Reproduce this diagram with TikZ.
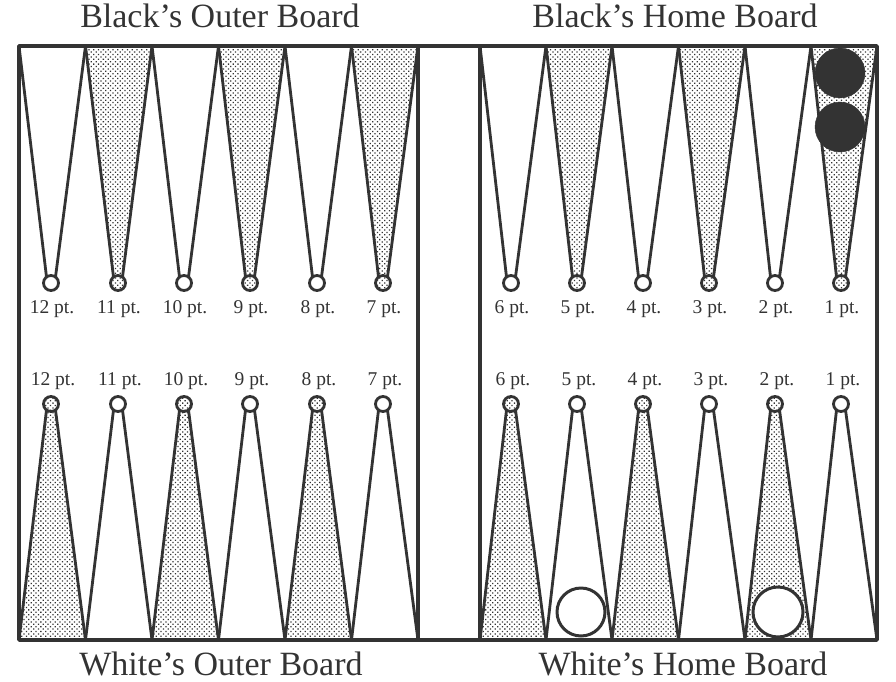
\documentclass[tikz,border=0pt]{standalone}
\usepackage{fontspec}
\setmainfont{Liberation Serif}
\usetikzlibrary{patterns.meta}
\definecolor{ink}{HTML}{333333}
\newcommand\toptri[4]{% xl, xr, cx, shaded
  \ifnum#4=1
    \path[dotfill] (#1,46) -- (#3-4.5,277) -- (#3+4.5,277) -- (#2,46) -- cycle;
  \fi
  \draw[ptline] (#1,46) -- (#3-4.5,277) (#3+4.5,277) -- (#2,46);
  \draw[ptline, fill=white] (#3,283) circle (7.5);
  \ifnum#4=1 \path[dotfill] (#3,283) circle (6.3); \fi
}
\newcommand\bottri[4]{%
  \ifnum#4=1
    \path[dotfill] (#1,640) -- (#3-4.5,410) -- (#3+4.5,410) -- (#2,640) -- cycle;
  \fi
  \draw[ptline] (#1,640) -- (#3-4.5,410) (#3+4.5,410) -- (#2,640);
  \draw[ptline, fill=white] (#3,404) circle (7.5);
  \ifnum#4=1 \path[dotfill] (#3,404) circle (6.3); \fi
}
\begin{document}
\begin{tikzpicture}[x=1pt,y=-1pt,line join=round,
  ptline/.style={draw=ink,line width=2.8pt},
  dotfill/.style={pattern={Dots[distance=3.4pt,radius=0.9pt,angle=45]},pattern color=ink},
  lbl/.style={font=\fontsize{19.5}{22}\selectfont,text=ink,anchor=base,inner sep=0pt},
  ttl/.style={font=\fontsize{34}{38}\selectfont,text=ink,anchor=base,inner sep=0pt},
  blackman/.style={draw=ink,fill=ink},
  whiteman/.style={draw=ink,line width=3pt,fill=white}]
\useasboundingbox (0,0) rectangle (896,682);
% top points
\toptri{19}{85.5}{51}{0}
\toptri{85.5}{152}{118}{1}
\toptri{152}{218.5}{184}{0}
\toptri{218.5}{285}{250}{1}
\toptri{285}{351.5}{317}{0}
\toptri{351.5}{418}{383}{1}
\toptri{480}{546}{511}{0}
\toptri{546}{612}{577}{1}
\toptri{612}{678.5}{643}{0}
\toptri{678.5}{745}{709}{1}
\toptri{745}{811}{775}{0}
\toptri{811}{877}{841}{1}
% bottom points
\bottri{19}{85.5}{51}{1}
\bottri{85.5}{152}{118}{0}
\bottri{152}{218.5}{184}{1}
\bottri{218.5}{285}{250}{0}
\bottri{285}{351.5}{317}{1}
\bottri{351.5}{418}{383}{0}
\bottri{480}{546}{511}{1}
\bottri{546}{612}{577}{0}
\bottri{612}{678.5}{643}{1}
\bottri{678.5}{745}{709}{0}
\bottri{745}{811}{775}{1}
\bottri{811}{877}{841}{0}
% frame and bar
\draw[draw=ink,line width=3.4pt] (19,46) rectangle (877,640);
\draw[draw=ink,line width=3.2pt] (418,46) -- (418,640) (480,46) -- (480,640);
% checkers
\draw[blackman] (840,73) circle (25);
\draw[blackman] (840,127) circle (25);
\draw[whiteman] (581,612) circle (24);
\draw[whiteman] (778,612) circle (25);
% labels
\foreach \n/\x in {12/51,11/118,10/184,9/250,8/317,7/383,6/511,5/577,4/643,3/709,2/775,1/841}{
  \node[lbl] (top\n) at (\x+1,313) {\n\ pt.};
  \node[lbl] (bot\n) at (\x+2,385) {\n\ pt.};
}
% titles
\node[ttl] (bob) at (220,28) {Black’s Outer Board};
\node[ttl] (bhb) at (675,28) {Black’s Home Board};
\node[ttl] (wob) at (221,675) {White’s Outer Board};
\node[ttl] (whb) at (683,675) {White’s Home Board};
\end{tikzpicture}
\end{document}
